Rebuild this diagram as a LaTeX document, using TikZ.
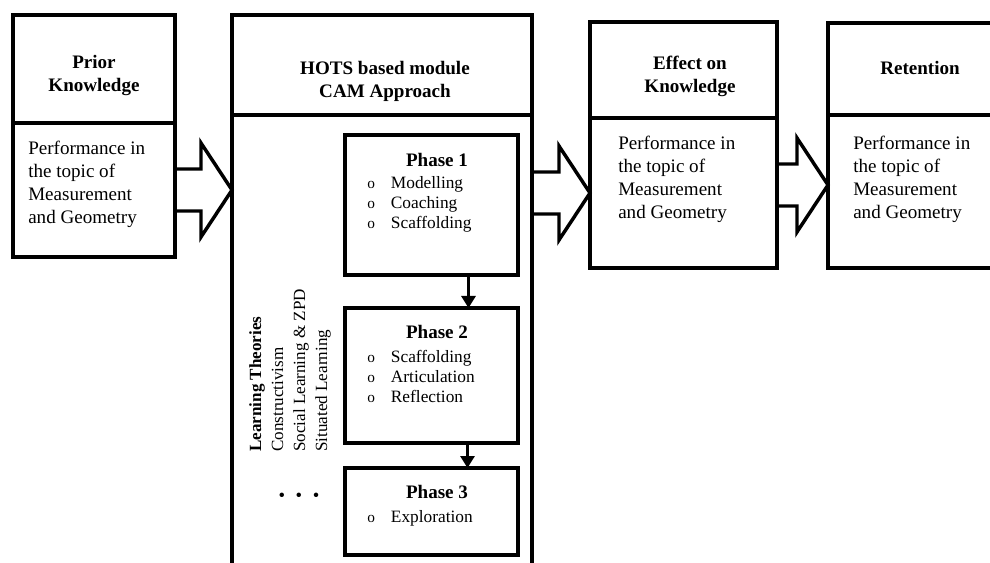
\documentclass[tikz,border=0pt]{standalone}
\usepackage{fontspec}
\setmainfont{Liberation Serif}
\usetikzlibrary{arrows.meta,calc}

\tikzset{
  box/.style={draw,line width=3pt,inner sep=0pt,outer sep=0pt},
  phasebox/.style={draw,line width=2.3pt,inner sep=0pt,outer sep=0pt,minimum width=129.75pt,anchor=north west},
  boxtitle/.style={font=\fontsize{14.3}{17.25}\selectfont\bfseries,align=center,inner sep=0pt},
  bodytext/.style={font=\fontsize{14.3}{17.25}\selectfont,align=left,anchor=north west,inner sep=0pt},
  items/.style={font=\fontsize{13}{15}\selectfont,anchor=north west,inner sep=0pt},
  theories/.style={font=\fontsize{12.8}{16.5}\selectfont,align=left,rotate=90,anchor=north west,inner sep=0pt},
  blockarrow/.style={line width=2.6pt},
  flow/.style={line width=2.2pt,-{Triangle[length=9pt,width=10.5pt]}}
}
% block arrow between two points at the same height
\newcommand{\bigarrow}[2]{%
  \draw[blockarrow] ($(#1)+(0,-21)$) -- ($(#2)+(-31,-21)$) -- ($(#2)+(-31,-47)$)
    -- (#2) -- ($(#2)+(-31,47)$) -- ($(#2)+(-31,21)$) -- ($(#1)+(0,21)$);}
\newcommand{\bulletlist}[1]{%
  \begin{tabular}{@{}l@{\hspace{12pt}}l@{}}#1\end{tabular}}
\newcommand{\bul}{{\fontsize{11.5}{11.5}\selectfont o}}

\begin{document}
\begin{tikzpicture}[x=0.75pt,y=-0.75pt]
  \useasboundingbox (0,0) rectangle (990,563);

  % prior knowledge
  \node[box,minimum width=121.5pt,minimum height=81pt,anchor=north west] (prior) at (13,15) {};
  \node[box,minimum width=121.5pt,minimum height=100.5pt,anchor=north] (priorbody) at (prior.south) {};
  \node[boxtitle] (priort) at (94,75) {Prior\\Knowledge};
  \node[bodytext] (priorx) at (28,141) {Performance in\\the topic of\\Measurement\\and Geometry};

  % module, runs off the bottom
  \node[box,minimum width=225pt,minimum height=75pt,anchor=north west] (hots) at (232,15) {};
  \node[box,overlay,minimum width=225pt,minimum height=363.75pt,anchor=north] (hotsbody) at (hots.south) {};
  \node[boxtitle] (hotst) at (385,81) {HOTS based module\\CAM Approach};

  % effect
  \node[box,minimum width=140.25pt,minimum height=72pt,anchor=north west] (effect) at (590,22) {};
  \node[box,minimum width=140.25pt,minimum height=112.5pt,anchor=north] (effectbody) at (effect.south) {};
  \node[boxtitle] (effectt) at (690,76) {Effect on\\Knowledge};
  \node[bodytext] (effectx) at (618,136) {Performance in\\the topic of\\Measurement\\and Geometry};

  % retention, runs off the right
  \node[box,overlay,minimum width=138pt,minimum height=69pt,anchor=north west] (ret) at (828,23) {};
  \node[box,overlay,minimum width=138pt,minimum height=114.75pt,anchor=north] (retbody) at (ret.south) {};
  \node[boxtitle] (rett) at (920,68) {Retention};
  \node[bodytext] (retx) at (853,136) {Performance in\\the topic of\\Measurement\\and Geometry};

  % phases
  \node[phasebox,minimum height=105pt] (ph1) at (345,135) {};
  \node[phasebox,minimum height=101.25pt] (ph2) at (345,308) {};
  \node[phasebox,minimum height=65.25pt] (ph3) at (345,468) {};
  \node[boxtitle] (ph1t) at (437,160) {Phase 1};
  \node[items] (ph1x) at (367,174) {\bulletlist{\bul & Modelling\\ \bul & Coaching\\ \bul & Scaffolding}};
  \node[boxtitle] (ph2t) at (437,332) {Phase 2};
  \node[items] (ph2x) at (367,348) {\bulletlist{\bul & Scaffolding\\ \bul & Articulation\\ \bul & Reflection}};
  \node[boxtitle] (ph3t) at (437,492) {Phase 3};
  \node[items] (ph3x) at (367,508) {\bulletlist{\bul & Exploration}};

  \node[theories] (theo) at (249,452) {\textbf{Learning Theories}\\Constructivism\\Social Learning \& ZPD\\Situated Learning};
  \node[font=\fontsize{14}{14}\selectfont,inner sep=0pt] (dots) at (299,497) {\textbullet\hspace{8pt}\textbullet\hspace{8pt}\textbullet};

  % arrows
  \coordinate (a3) at ($(effectbody.east)+(0,-8)$);
  \bigarrow{priorbody.east}{hots.west |- priorbody.east}
  \bigarrow{hotsbody.east |- effectbody.east}{effectbody.west}
  \bigarrow{a3}{retbody.west |- a3}
  \draw[flow] ($(ph1.south)+(37,0)$) -- ($(ph2.north)+(37,0)$);
  \draw[flow] ($(ph2.south)+(36,0)$) -- ($(ph3.north)+(36,0)$);
\end{tikzpicture}
\end{document}
